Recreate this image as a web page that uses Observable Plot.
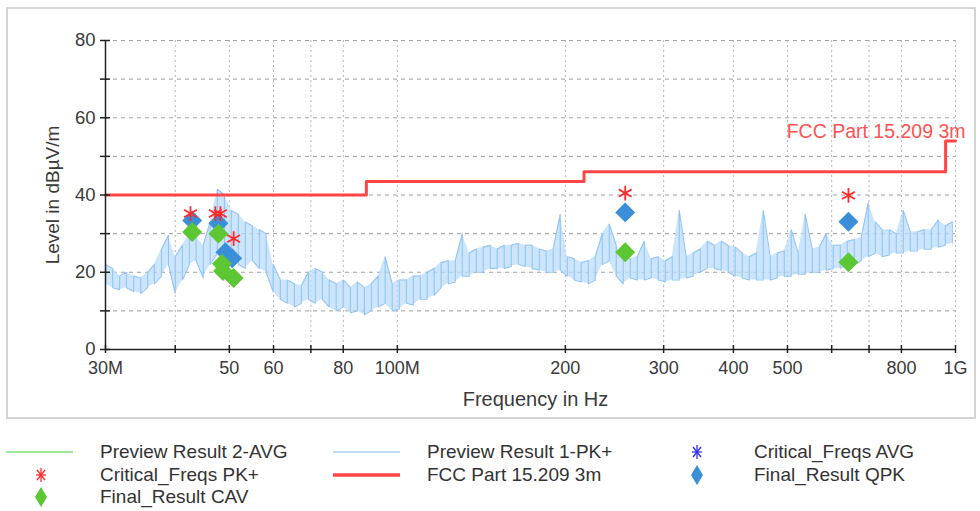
<!DOCTYPE html>
<html><head><meta charset="utf-8">
<script src="https://cdn.jsdelivr.net/npm/d3@7"></script>
<script src="https://cdn.jsdelivr.net/npm/@observablehq/plot@0.6"></script>
<style>
body{margin:0;background:#fff;font-family:"Liberation Sans",Arial,sans-serif;}
#wrap{position:relative;width:980px;height:511px;overflow:hidden;background:#fff;}
#frame{position:absolute;left:6px;top:7px;width:966px;height:408px;border:2px solid #d4d4d4;}
#chart{position:absolute;left:0;top:0;}
#legend{position:absolute;left:0;top:441px;display:grid;grid-template-columns:327px 327px 326px;grid-auto-rows:22.5px;font-size:19px;color:#333;}
.item{display:flex;align-items:center;white-space:nowrap;}
.sym{width:100px;height:22px;flex:none;}
</style></head>
<body>
<div id="wrap"><div id="frame"></div><div id="chart"></div><div id="legend"></div></div>
<script>
// Preview Result 1-PK+ trace (MHz, dBµV/m): per-frequency lower/upper envelope
const freqs=[30.0,30.9,31.8,32.7,33.7,34.7,35.7,36.7,37.8,38.9,40.0,41.2,42.4,43.6,44.9,46.2,47.6,49.0,50.4,51.9,53.4,55.0,56.6,58.2,59.9,61.7,63.5,65.4,67.3,69.3,71.3,73.4,75.5,77.7,80.0,82.4,84.8,87.3,89.8,92.4,95.1,97.9,100.8,103.8,106.8,109.9,113.1,116.4,119.8,123.4,127.0,130.7,134.5,138.5,142.5,146.7,151.0,155.4,160.0,164.7,169.5,174.4,179.6,184.8,190.2,195.8,201.6,207.5,213.5,219.8,226.2,232.9,239.7,246.7,253.9,261.4,269.0,276.9,285.0,293.4,302.0,310.8,319.9,329.3,338.9,348.9,359.1,369.6,380.4,391.6,403.0,414.9,427.0,439.5,452.4,465.7,479.3,493.4,507.8,522.7,538.0,553.8,570.0,586.7,603.9,621.6,639.8,658.6,677.9,697.7,718.2,739.2,760.9,783.2,806.1,829.8,854.1,879.1,904.9,931.4,958.7,986.8];
const peakLo=[17,16,15.5,16,15,14.5,16,17,19,22,14.5,18,22,23,18.5,22,25,24,23,22,21,23,21,20,15,13,12,11,12,13,12,13,11,10,11,9.5,10,9,10,11,12,10,10.5,12,11.5,13,13,14,16,17,17.5,19,19,20,20,21,21,21,21.5,22,21.5,21,20.5,20,20,20.5,19,18,17.5,17,18,22,23,19,17,18.5,18,18,18.5,18,17.5,18,18,18.5,19,20,21,21,20.5,20,19,18.5,18,18,18,18,18.5,19,19,19.5,19.5,20,20,20.5,21,21,22,22,23,24,25,24,24.5,25,25,25.5,25.5,26,26,26.5,27,27.5];
const peakHi=[22,21,19,20,19,18.5,20,22,26,29.5,24,27,30,29,27,33,41.5,40,36,35,33,32,31,30,22,18,18,17,16.5,20,21,20,18,17,18,16,17.5,16,17,19,24,17,18,18,19,19,20,21,22.5,23,23,30,25,26,26.5,27,26,27,27,27.5,27,27,26,25.5,26,35,24,23.5,22.5,23,24,30,32.5,27,24,23.5,24,28,23.5,24,23,24,36,24,25,26,28,27,28,27,26.5,25,24,25,36,24,25,25.5,31,25,35,26,26.5,30,27,27,28,28.5,29,38,33,31,31,30,36,30.5,30.5,31,31,33.5,32,33];
// FCC Part 15.209 3m limit (step function)
const limitFreq=[30,88,216,960,1000];
const limitLevel=[40,43.5,46,54,54];
// Critical_Freqs PK+
const pkFreq=[42.6,47.2,48.2,50.9,256,643];
const pkLevel=[35.2,35.2,35.2,28.7,40.5,39.9];
// Final_Result QPK
const qpkFreq=[42.9,47.8,49.2,50.6,256,643];
const qpkLevel=[33.4,32.7,25.2,23.6,35.5,33.1];
// Final_Result CAV
const cavFreq=[42.9,47.8,48.5,48.7,50.9,256,643];
const cavLevel=[30.4,30.0,22.2,20.3,18.5,25.2,22.6];
// ticks
const xTickValues=[30,40,50,60,70,80,100,200,300,400,500,600,700,800,1000];
const xLabelValues=[30,50,60,80,100,200,300,400,500,800,1000];
const xLabelText=["30M","50","60","80","100M","200","300","400","500","800","1G"];
const yTickValues=[0,10,20,30,40,50,60,70,80];
const yLabelValues=[0,20,40,60,80];
const legendLabels=["Preview Result 2-AVG","Preview Result 1-PK+","Critical_Freqs AVG","Critical_Freqs PK+","FCC Part 15.209 3m","Final_Result QPK","Final_Result CAV"];

const trace=freqs.map((f,i)=>({f,lo:peakLo[i],hi:peakHi[i]}));
const zig=trace.flatMap((d,i)=>i%2?[{f:d.f,v:d.hi},{f:d.f,v:d.lo}]:[{f:d.f,v:d.lo},{f:d.f,v:d.hi}]);
const limit=limitFreq.map((f,i)=>({f,v:limitLevel[i]}));
const pts=(F,L)=>F.map((f,i)=>({f,v:L[i]}));

const chart=Plot.plot({
  width:980,height:420,marginLeft:105,marginRight:25,marginTop:40,marginBottom:71,
  style:{fontFamily:"Liberation Sans, Arial, sans-serif",fontSize:"18px",color:"#3a3a3a",background:"transparent",overflow:"visible"},
  x:{type:"log",domain:[30,1000]},
  y:{domain:[0,80]},
  marks:[
    Plot.ruleY(yTickValues.filter(v=>v>0),{stroke:"#a0a0a0",strokeDasharray:"4,4",strokeWidth:1}),
    Plot.ruleX(xTickValues.filter(v=>v>30),{stroke:"#b4b4b4",strokeDasharray:"2,3",strokeWidth:1}),
    Plot.areaY(trace,{x:"f",y1:"lo",y2:"hi",fill:"#bcdcfa",fillOpacity:0.75}),
    Plot.line(zig,{x:"f",y:"v",stroke:"#92c5f6",strokeWidth:1.1}),
    Plot.line(limit,{x:"f",y:"v",curve:"step-after",stroke:"#ff4545",strokeWidth:3}),
    Plot.text([limit[limit.length-1]],{x:"f",y:"v",text:()=>legendLabels[4],textAnchor:"end",lineAnchor:"bottom",dx:10,dy:-3,fill:"#ff5252",fontSize:19.5}),
    Plot.dot(pts(qpkFreq,qpkLevel),{x:"f",y:"v",symbol:"diamond2",r:9,fill:"#3a8fd8",stroke:"none"}),
    Plot.dot(pts(cavFreq,cavLevel),{x:"f",y:"v",symbol:"diamond2",r:9,fill:"#5dc633",stroke:"none"}),
    Plot.dot(pts(pkFreq,pkLevel),{x:"f",y:"v",symbol:"asterisk",r:7,stroke:"#ff2a2a",strokeWidth:1.8}),
    Plot.ruleY([0],{stroke:"#222",strokeWidth:1.5}),
    Plot.ruleX([30],{stroke:"#222",strokeWidth:1.5}),
    Plot.axisY({ticks:yTickValues,tickSize:10,dx:5,tickFormat:()=>"",label:null,stroke:"#222",strokeWidth:1.5}),
    Plot.axisY({ticks:yLabelValues,tickSize:0,tickPadding:10,label:null,fontSize:18.5}),
    Plot.axisX({ticks:xTickValues,tickSize:8,dy:-4,tickFormat:()=>"",label:null,stroke:"#222",strokeWidth:1.5}),
    Plot.text(xLabelValues,{x:d=>d,text:(d,i)=>xLabelText[i],frameAnchor:"bottom",dy:24,fontSize:18,fill:"#3a3a3a"}),
    Plot.text(["Frequency in Hz"],{frameAnchor:"bottom",dy:56,dx:5,fontSize:20,fill:"#3a3a3a"}),
    Plot.text(["Level in dBµV/m"],{frameAnchor:"left",textAnchor:"middle",rotate:-90,dx:-53,fontSize:19,fill:"#3a3a3a"})
  ]
});
document.getElementById("chart").appendChild(chart);

// legend
const NS="http://www.w3.org/2000/svg";
function sym(kind){
  const s=document.createElementNS(NS,"svg");s.setAttribute("class","sym");s.setAttribute("width",100);s.setAttribute("height",22);
  const add=(tag,attrs)=>{const e=document.createElementNS(NS,tag);for(const k in attrs)e.setAttribute(k,attrs[k]);s.appendChild(e);};
  const star=(cx,color,w)=>{[[0,-7,0,7],[-5,0,5,0],[-4,-5,4,5],[-4,5,4,-5]].forEach(a=>add("line",{x1:cx+a[0],y1:11+a[1],x2:cx+a[2],y2:11+a[3],stroke:color,"stroke-width":w}));};
  if(kind==="lineGreen")add("line",{x1:6,x2:73,y1:11,y2:11,stroke:"#9ee89e","stroke-width":2});
  if(kind==="lineBlue")add("line",{x1:6,x2:73,y1:11,y2:11,stroke:"#c2dcf7","stroke-width":2});
  if(kind==="lineRed")add("line",{x1:6,x2:73,y1:11,y2:11,stroke:"#ff4545","stroke-width":3.5});
  if(kind==="starBlue")star(43,"#3030e0",1.3);
  if(kind==="starRed")star(41,"#ff2a2a",1.3);
  if(kind==="diaBlue")add("polygon",{points:"43,1 49,11 43,21 37,11",fill:"#3a8fd8"});
  if(kind==="diaGreen")add("polygon",{points:"41,1 47,11 41,21 35,11",fill:"#5dc633"});
  return s;
}
const legendKinds=["lineGreen","lineBlue","starBlue","starRed","lineRed","diaBlue","diaGreen"];
const leg=document.getElementById("legend");
legendLabels.forEach((t,i)=>{const d=document.createElement("div");d.className="item";d.appendChild(sym(legendKinds[i]));const sp=document.createElement("span");sp.textContent=t;d.appendChild(sp);leg.appendChild(d);});
</script>
</body></html>
